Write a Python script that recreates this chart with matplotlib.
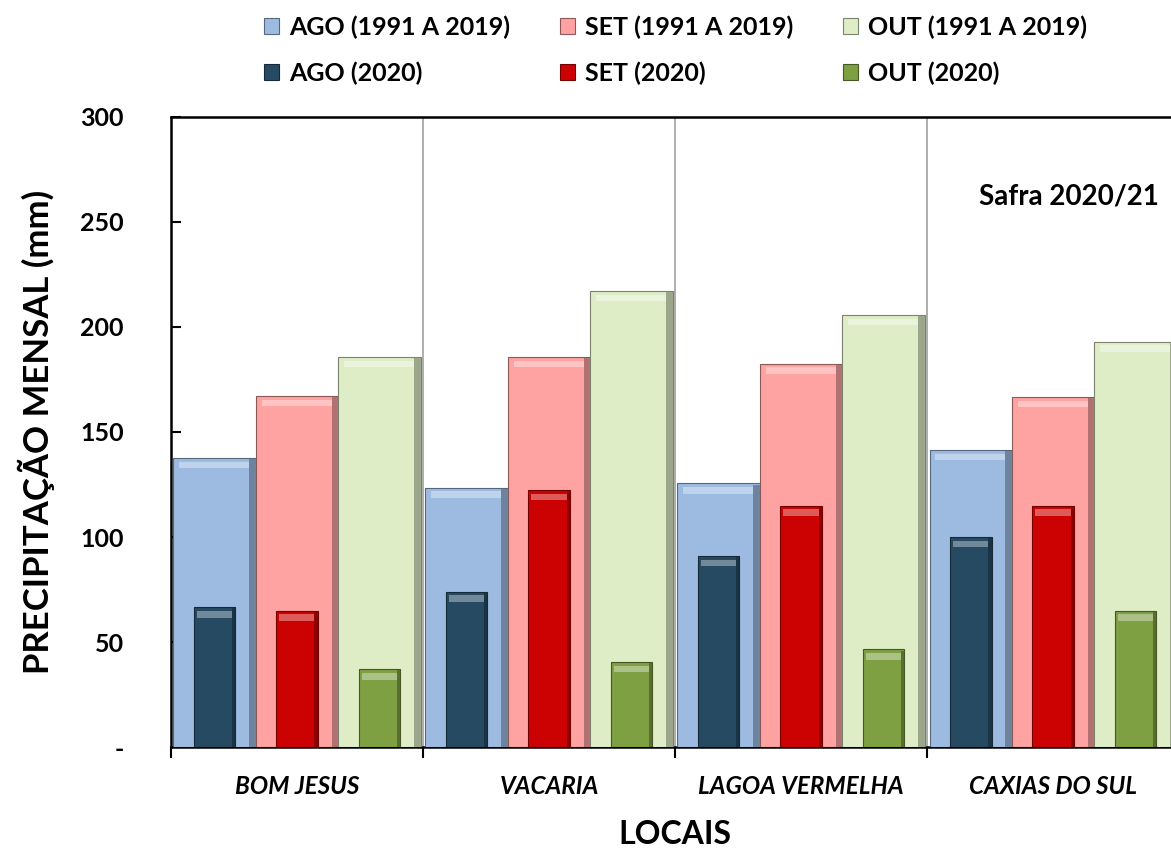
import matplotlib.pyplot as plt
import matplotlib.colors as mcolors
import numpy as np

plt.rcParams['font.family'] = ['Lato', 'DejaVu Sans']

locais = ["BOM JESUS", "VACARIA", "LAGOA VERMELHA", "CAXIAS DO SUL"]

# normais climatologicas (1991 a 2019), mm
ago_normal = [137.5, 123.5, 125.5, 141.5]
set_normal = [167.0, 185.5, 182.5, 166.5]
out_normal = [185.5, 217.0, 205.5, 193.0]

# safra 2020
ago_2020 = [66.5, 74.0, 91.0, 100.0]
set_2020 = [65.0, 122.5, 115.0, 115.0]
out_2020 = [37.0, 40.5, 46.5, 65.0]

yticks = [0, 50, 100, 150, 200, 250, 300]
ytick_labels = ["-", "50", "100", "150", "200", "250", "300"]

series = [
    ("AGO (1991 A 2019)", ago_normal, "#9dbbe1"),
    ("SET (1991 A 2019)", set_normal, "#fea2a2"),
    ("OUT (1991 A 2019)", out_normal, "#dfedc7"),
    ("AGO (2020)", ago_2020, "#264a62"),
    ("SET (2020)", set_2020, "#cc0202"),
    ("OUT (2020)", out_2020, "#7f9f43"),
]

fig = plt.figure(figsize=(11.71, 8.52), dpi=100)
ax = fig.add_axes([0.146, 0.123, 0.861, 0.740])

x = np.arange(len(locais))
wide = 0.327
narrow = 0.165
offsets = [-wide, 0, wide]


def shade(color, f):
    c = np.array(mcolors.to_rgb(color))
    if f > 0:
        c = c + (1 - c) * f
    else:
        c = c * (1 + f)
    return tuple(np.clip(c, 0, 1))


def bevel_bars(xpos, vals, width, color, label):
    bars = ax.bar(xpos, vals, width, color=color, edgecolor=shade(color, -0.45),
                  linewidth=0.8, label=label, zorder=3)
    vals = np.array(vals)
    band = 3.0
    # brilho no topo e sombra na lateral direita
    ax.bar(xpos, np.full_like(vals, band), width * 0.86, bottom=vals - band * 1.6,
           color=shade(color, 0.35), linewidth=0, zorder=4)
    ax.bar(xpos + width * 0.46, vals - 0.5, width * 0.08, color=shade(color, -0.3),
           linewidth=0, zorder=4)
    return bars


handles = []
for i, (label, vals, color) in enumerate(series):
    off = offsets[i % 3]
    w = wide if i < 3 else narrow
    handles.append(bevel_bars(x + off, vals, w, color, label))

for b in [0.5, 1.5, 2.5]:
    ax.axvline(b, color="#a0a0a0", lw=1.2, zorder=2)

ax.set_xlim(-0.5, 3.5)
ax.set_ylim(0, 300)
ax.set_yticks(yticks)
ax.set_yticklabels(ytick_labels, fontsize=18, fontweight="bold")
ax.tick_params(axis="y", direction="in", length=7, width=1.5, pad=34)

ax.set_xticks(np.arange(-0.5, 3.6, 1.0))
ax.set_xticklabels([])
ax.set_xticks(x, minor=True)
ax.set_xticklabels(locais, minor=True, fontsize=17.5, fontweight="bold", style="italic")
ax.tick_params(axis="x", which="minor", length=0, pad=20)
ax.tick_params(axis="x", which="major", direction="out", length=8, width=1.5)

for s in ax.spines.values():
    s.set_linewidth(1.8)
    s.set_color("black")

ax.set_ylabel("PRECIPITAÇÃO MENSAL (mm)", fontsize=25, fontweight="bold", labelpad=18)
ax.set_xlabel("LOCAIS", fontsize=23, fontweight="bold", labelpad=16)

ax.text(3.42, 262, "Safra 2020/21", fontsize=20, fontweight="bold", ha="right", va="center")

order = [0, 3, 1, 4, 2, 5]
fig.legend([handles[i] for i in order], [series[i][0] for i in order],
           loc="upper center", bbox_to_anchor=(0.577, 1.008), ncol=3, frameon=False,
           prop={"size": 18, "weight": "bold"}, handlelength=0.6, handleheight=0.6,
           columnspacing=2.0, labelspacing=0.9, handletextpad=0.4)

fig.savefig("out.png", dpi=100)
